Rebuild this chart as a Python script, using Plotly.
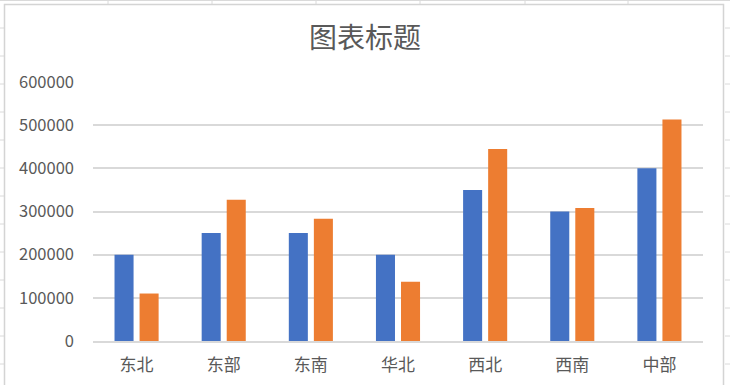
import plotly.graph_objects as go

categories = ["东北", "东部", "东南", "华北", "西北", "西南", "中部"]
series1 = [200000, 250000, 250000, 200000, 350000, 300000, 400000]
series2 = [110000, 327000, 283000, 137000, 445000, 308000, 513000]
y_ticks = [0, 100000, 200000, 300000, 400000, 500000, 600000]
title_text = "图表标题"

W, H = 730, 385
ML, MR, MT, MB = 93, 27, 82, 44
PW, PH = W - ML - MR, H - MT - MB

BLUE = "#4472C4"
ORANGE = "#ED7D31"
TXT = "#595959"
GRID = "#D9D9D9"
FONT = "Noto Sans CJK SC"

fig = go.Figure()
fig.add_trace(go.Bar(x=categories, y=series1, marker=dict(color=BLUE, line=dict(width=0)), name="系列1"))
fig.add_trace(go.Bar(x=categories, y=series2, marker=dict(color=ORANGE, line=dict(width=0)), name="系列2"))


def px(xp):
    return (xp - ML) / PW


def py(yp):
    return 1 - (yp - MT) / PH


shapes = []
# sheet gridlines outside the chart frame
shapes.append(dict(type="line", xref="paper", yref="paper", x0=px(0), x1=px(W), y0=py(0.5), y1=py(0.5),
                   line=dict(color="#DADADA", width=1), layer="below"))
for cx in [108, 212, 316, 420, 525, 628]:
    shapes.append(dict(type="line", xref="paper", yref="paper", x0=px(cx), x1=px(cx), y0=py(0), y1=py(4),
                       line=dict(color="#DADADA", width=1), layer="below"))
for ry in range(28, H, 28):
    shapes.append(dict(type="line", xref="paper", yref="paper", x0=px(0), x1=px(4), y0=py(ry), y1=py(ry),
                       line=dict(color="#DADADA", width=1), layer="below"))
    shapes.append(dict(type="line", xref="paper", yref="paper", x0=px(725), x1=px(W), y0=py(ry), y1=py(ry),
                       line=dict(color="#DADADA", width=1), layer="below"))
# chart frame
shapes.append(dict(type="rect", xref="paper", yref="paper", x0=px(4.5), x1=px(723.5), y0=py(4.5), y1=py(H + 5),
                   line=dict(color="#D4D4D4", width=1.5), fillcolor="rgba(0,0,0,0)", layer="below"))

fig.update_layout(
    width=W, height=H,
    margin=dict(l=ML, r=MR, t=MT, b=MB, pad=0, autoexpand=False),
    paper_bgcolor="white", plot_bgcolor="white",
    barmode="group", bargap=0.425, bargroupgap=0.24,
    showlegend=False,
    font=dict(family=FONT, color=TXT),
    title=dict(text=title_text, x=0.5, xanchor="center", y=1 - 38 / H, yanchor="middle",
               yref="container", font=dict(size=28, color=TXT, family=FONT)),
    shapes=shapes,
    xaxis=dict(showgrid=False, showline=True, linecolor=GRID, linewidth=1.5, ticks="",
               tickfont=dict(size=17, color=TXT, family=FONT), ticklabelstandoff=8,
               automargin=False, fixedrange=True),
    yaxis=dict(range=[0, 600000], tickvals=y_ticks, ticktext=[str(v) for v in y_ticks],
               showgrid=True, gridcolor=GRID, gridwidth=1.5, zeroline=False, showline=False,
               ticks="", tickfont=dict(size=16.5, color=TXT, family=FONT), ticklabelstandoff=18,
               automargin=False, fixedrange=True),
)

fig.write_html("out.html", config={"displayModeBar": False},
               post_script="document.body.style.margin='0';document.body.style.overflow='hidden';")
